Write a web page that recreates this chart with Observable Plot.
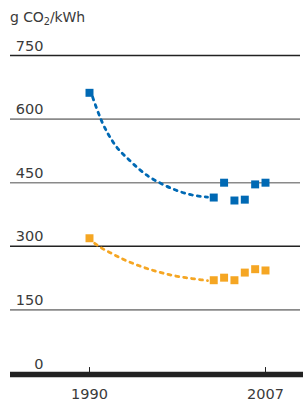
<!DOCTYPE html>
<html>
<head>
<meta charset="utf-8">
<script src="https://cdn.jsdelivr.net/npm/d3@7"></script>
<script src="https://cdn.jsdelivr.net/npm/@observablehq/plot@0.6"></script>
<style>
  html, body { margin: 0; padding: 0; background: #fff; }
  #title { position: relative; height: 30px; font-family: "DejaVu Sans", sans-serif; font-size: 14px; color: #3a3a3a; }
  #title span { position: absolute; left: 10px; top: 10px; line-height: 14px; white-space: nowrap; letter-spacing: -0.1px; }
  #title sub { font-size: 0.7em; vertical-align: -0.3em; line-height: 0; }
</style>
</head>
<body>
<div id="title"><span>g CO<sub>2</sub>/kWh</span></div>
<div id="chart"></div>
<script>
const years = [1990, 2002, 2003, 2004, 2005, 2006, 2007];
const blueValues = [662, 415, 450, 408, 410, 446, 450];
const orangeValues = [319, 220, 226, 220, 238, 246, 243];

const blueTrendYears = [1990.3, 1991.2, 1992.3, 1993.9, 1995.7, 1997.0, 1998.5, 1999.9, 2001.4];
const blueTrendValues = [652, 594, 545, 502, 465, 447, 431, 421, 416];
const orangeTrendYears = [1990.5, 1991.3, 1992.0, 1993.3, 1994.8, 1996.3, 1997.7, 1999.3, 2000.8, 2001.4];
const orangeTrendValues = [307, 294, 285, 269, 254, 242, 233, 226, 221, 219];

const yTicks = [0, 150, 300, 450, 600, 750];
const darkTicks = [300, 750];
const grayTicks = [150, 450, 600];
const xTicks = [1990, 2007];

const blue = "#0069b4";
const orange = "#f5a623";

const pts = (xs, ys) => xs.map((x, i) => ({x, y: ys[i]}));
const bluePts = pts(years, blueValues);
const orangePts = pts(years, orangeValues);
const blueTrend = pts(blueTrendYears, blueTrendValues);
const orangeTrend = pts(orangeTrendYears, orangeTrendValues);

const chart = Plot.plot({
  width: 303,
  height: 372,
  marginTop: 25,
  marginBottom: 29,
  marginLeft: 10,
  marginRight: 0,
  style: {fontFamily: "DejaVu Sans, sans-serif", background: "#fff"},
  x: {domain: [1990, 2007], range: [89, 265], axis: null},
  y: {domain: [0, 750], axis: null},
  marks: [
    Plot.ruleY(grayTicks, {stroke: "#8a8a8a", strokeWidth: 1.6, insetRight: 3}),
    Plot.ruleY(darkTicks, {stroke: "#222", strokeWidth: 1.6, insetRight: 3}),
    Plot.text(yTicks, {y: d => d, text: d => String(d), frameAnchor: "left", dx: 33, dy: -5, textAnchor: "end", lineAnchor: "bottom", fontSize: 14.5, fill: "#3a3a3a"}),
    Plot.line(blueTrend, {x: "x", y: "y", curve: "monotone-x", stroke: blue, strokeWidth: 2.8, strokeDasharray: "3,5"}),
    Plot.line(orangeTrend, {x: "x", y: "y", curve: "monotone-x", stroke: orange, strokeWidth: 2.8, strokeDasharray: "3,5"}),
    Plot.dot(bluePts, {x: "x", y: "y", symbol: "square", r: 4.5, fill: blue, stroke: null}),
    Plot.dot(orangePts, {x: "x", y: "y", symbol: "square", r: 4.5, fill: orange, stroke: null}),
    Plot.ruleY([0], {stroke: "#222", strokeWidth: 5.5, dy: 1}),
    Plot.ruleX(xTicks, {y1: 0, y2: 14, stroke: "#222", strokeWidth: 1}),
    Plot.text(xTicks, {x: d => d, y: 0, text: d => String(d), dy: 25, lineAnchor: "bottom", fontSize: 14.5, fill: "#3a3a3a"})
  ]
});
document.getElementById("chart").appendChild(chart);
</script>
</body>
</html>
